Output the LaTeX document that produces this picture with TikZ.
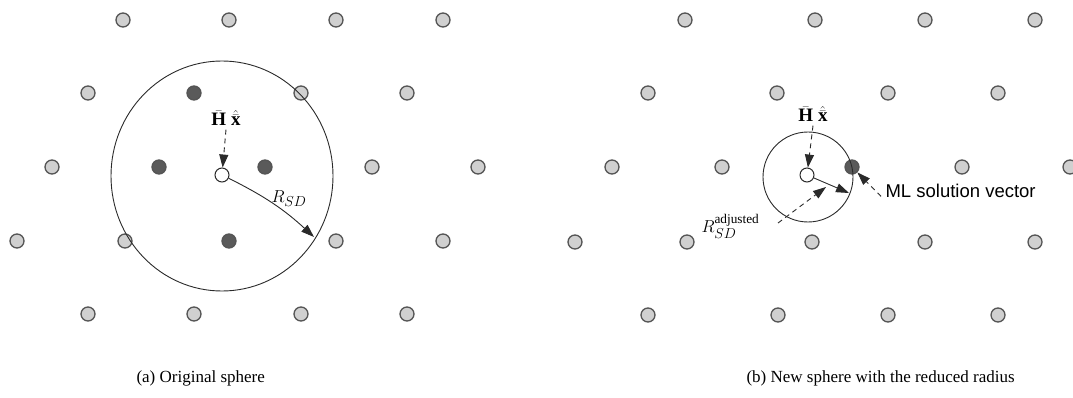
\documentclass[tikz,border=0pt]{standalone}
\usepackage{fontspec}
\setmainfont{Liberation Serif}
\newfontfamily\mlsans{Liberation Sans}
\usepackage{amsmath}
\usetikzlibrary{arrows.meta}
\definecolor{dotgrey}{HTML}{D0D0D0}
\definecolor{dotdark}{HTML}{5A5A5A}
\definecolor{dotrim}{HTML}{555555}
\definecolor{penline}{HTML}{2A2A2A}

\begin{document}
\begin{tikzpicture}[x=1pt,y=-1pt,
  font=\fontsize{17}{20}\selectfont,
  pt/.style={circle,draw=dotrim,line width=1.3pt,fill=dotgrey,minimum size=14pt,inner sep=0pt},
  hit/.style={pt,fill=dotdark},
  ctr/.style={pt,draw=penline,fill=white,line width=1pt},
  sph/.style={draw=penline,line width=0.9pt},
  mlab/.style={font=\fontsize{19}{22}\selectfont},
  arr/.style={-{Triangle[length=13pt,width=9pt]},draw=penline,line width=0.9pt},
  darr/.style={arr,dash pattern=on 5pt off 4pt}]

  \useasboundingbox (0,0) rectangle (1073,398);

  % (a) lattice
  \foreach \x/\y [count=\i] in {123/20,229/20,336/20,443/20,
      88/93,301/93,407/93, 52/167,372/167,478/167,
      17/241,125/241,336/241,443/241, 88/314,194/314,301/314,407/314}
    \node[pt] (l\i) at (\x,\y) {};
  \foreach \x/\y [count=\i] in {194/93,159/167,265/167,229/241}
    \node[hit] (lh\i) at (\x,\y) {};
  \node[ctr] (c1) at (222,175) {};
  \draw[sph] (222,176) ellipse (111 and 115);

  \node[mlab,anchor=base] (hx1) at (226,126) {$\bar{\mathbf{H}}\;\hat{\bar{\mathbf{x}}}$};
  \draw[darr] (hx1.south) -- (c1);
  \coordinate (rtip1) at (314,237);
  \draw[arr] (c1) to[bend left=8] (rtip1);
  \node[mlab,anchor=base west] (rsd1) at (268,203) {$R_{SD}$};

  % (b) lattice
  \foreach \x/\y [count=\i] in {685/20,815/20,925/20,1035/20,
      648/93,777/93,888/93,998/93, 612/167,722/167,962/167,1070/167,
      575/242,687/242,812/242,925/242,1035/242, 648/315,778/315,888/315,998/315}
    \node[pt] (r\i) at (\x,\y) {};
  \node[ctr] (c2) at (807,175) {};
  \node[hit] (ml) at (852,167) {};
  \draw[sph] (808,177) circle (45);

  \node[mlab,anchor=base] (hx2) at (813,122) {$\bar{\mathbf{H}}\;\hat{\bar{\mathbf{x}}}$};
  \draw[darr] (hx2.south) -- (c2);
  \coordinate (rtip2) at (849,193);
  \draw[arr] (c2) -- (rtip2);
  \coordinate (rs2) at (778,223);
  \coordinate (rd2) at (826,187);
  \draw[darr] (rs2) -- (rd2);
  \node[mlab,anchor=base west] (rsd2) at (698,232) {$R_{SD}^{\text{adjusted}}$};

  \node[anchor=base west,font=\mlsans\fontsize{18.5}{20}\selectfont] (mltxt) at (882,198) {ML solution vector};
  \draw[darr] (mltxt.west) ++(-1pt,-5pt) coordinate (mlfoot) (mlfoot) -- (ml);

  \node[anchor=base west] (capa) at (133,382) {(a) Original sphere};
  \node[anchor=base west] (capb) at (743,382) {(b) New sphere with the reduced radius};
\end{tikzpicture}
\end{document}
